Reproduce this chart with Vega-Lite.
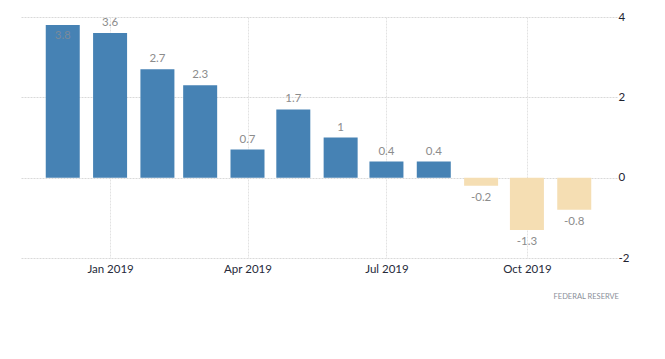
{
  "$schema": "https://vega.github.io/schema/vega-lite/v6.json",
  "width": 597,
  "height": 241,
  "autosize": "none",
  "padding": {"left": 20, "top": 17, "right": 48, "bottom": 101},
  "background": "white",
  "config": {
    "font": "Lato",
    "view": {"stroke": null},
    "locale": {"number": {"decimal": ".", "thousands": ",", "grouping": [3], "currency": ["$", ""], "minus": "-"}}
  },
  "title": {
    "text": "FEDERAL  RESERVE",
    "orient": "bottom",
    "anchor": "end",
    "fontSize": 7.5,
    "fontWeight": "normal",
    "color": "#8a8f99",
    "offset": 18,
    "dx": -10
  },
  "data": {
    "values": [
      {"date": "2018-12-01", "value": 3.8},
      {"date": "2019-01-01", "value": 3.6},
      {"date": "2019-02-01", "value": 2.7},
      {"date": "2019-03-01", "value": 2.3},
      {"date": "2019-04-01", "value": 0.7},
      {"date": "2019-05-01", "value": 1.7},
      {"date": "2019-06-01", "value": 1},
      {"date": "2019-07-01", "value": 0.4},
      {"date": "2019-08-01", "value": 0.4},
      {"date": "2019-09-01", "value": -0.2},
      {"date": "2019-10-01", "value": -1.3},
      {"date": "2019-11-01", "value": -0.8}
    ]
  },
  "encoding": {
    "x": {
      "field": "date",
      "type": "temporal",
      "scale": {
        "type": "utc",
        "padding": 0,
        "domain": [
          {"year": 2018, "month": 11, "date": 3, "utc": true},
          {"year": 2019, "month": 11, "date": 29, "utc": true}
        ]
      },
      "axis": {
        "title": null,
        "values": [
          {"year": 2019, "month": 1, "date": 1, "utc": true},
          {"year": 2019, "month": 4, "date": 1, "utc": true},
          {"year": 2019, "month": 7, "date": 1, "utc": true},
          {"year": 2019, "month": 10, "date": 1, "utc": true}
        ],
        "labelExpr": "utcFormat(datum.value, '%b %Y')",
        "domain": false,
        "ticks": false,
        "labelPadding": 5,
        "labelFontSize": 11.5,
        "labelColor": "#262a3a",
        "grid": true,
        "gridColor": "#e2e2e2",
        "gridDash": [2, 1],
        "gridWidth": 1
      }
    },
    "y": {
      "field": "value",
      "type": "quantitative",
      "scale": {"domain": [-2, 4], "nice": false, "zero": false},
      "axis": {
        "title": null,
        "orient": "right",
        "values": [-2, 0, 2, 4],
        "domain": false,
        "ticks": false,
        "labelPadding": 1,
        "labelFontSize": 11.5,
        "labelColor": "#1e2230",
        "grid": true,
        "gridColor": "#d9d9d9",
        "gridDash": [2, 1],
        "gridWidth": 1
      }
    }
  },
  "layer": [
    {
      "mark": {"type": "bar", "width": 34},
      "encoding": {
        "y2": {"datum": 0},
        "color": {
          "condition": {"test": "datum.value < 0", "value": "#f5deb3"},
          "value": "#4682b4"
        }
      }
    },
    {
      "transform": [{"filter": "datum.value >= 0 && datum.value < 3.7"}],
      "mark": {"type": "text", "baseline": "alphabetic", "dy": -7, "fontSize": 11.5, "fill": "#8c8c8c"},
      "encoding": {"text": {"field": "value", "type": "quantitative"}}
    },
    {
      "transform": [{"filter": "datum.value >= 3.7"}],
      "mark": {"type": "text", "baseline": "top", "dy": 5, "fontSize": 11.5, "fill": "#7a8a9a"},
      "encoding": {"text": {"field": "value", "type": "quantitative"}}
    },
    {
      "transform": [{"filter": "datum.value < 0"}],
      "mark": {"type": "text", "baseline": "top", "dy": 6, "fontSize": 11.5, "fill": "#8c8c8c"},
      "encoding": {"text": {"field": "value", "type": "quantitative"}}
    }
  ]
}
